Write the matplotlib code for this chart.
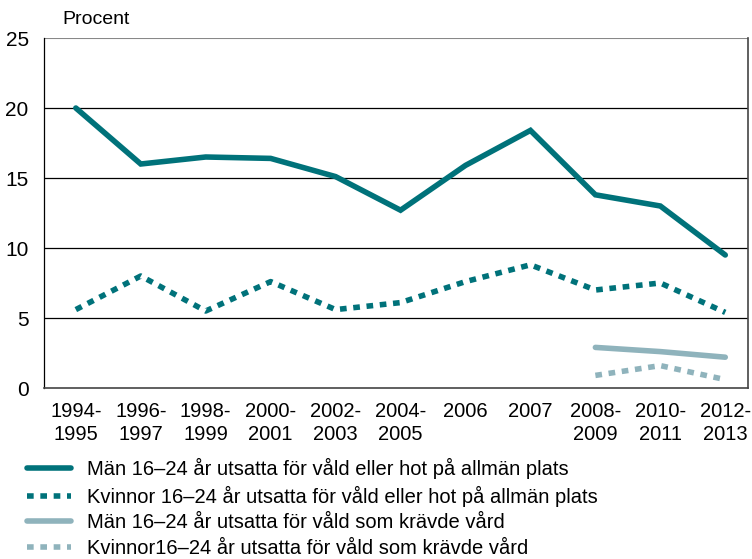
import matplotlib
matplotlib.use("Agg")
import matplotlib.pyplot as plt

plt.rcParams['font.family'] = ['Liberation Sans', 'DejaVu Sans']

categories = ["1994-\n1995", "1996-\n1997", "1998-\n1999", "2000-\n2001", "2002-\n2003",
              "2004-\n2005", "2006", "2007", "2008-\n2009", "2010-\n2011", "2012-\n2013"]
man_allman = [20.0, 16.0, 16.5, 16.4, 15.1, 12.7, 15.9, 18.4, 13.8, 13.0, 9.5]
kvinnor_allman = [5.6, 8.0, 5.5, 7.6, 5.6, 6.1, 7.6, 8.8, 7.0, 7.5, 5.4]
man_vard = [2.9, 2.6, 2.2]
kvinnor_vard = [0.9, 1.6, 0.6]
vard_idx = [8, 9, 10]
labels = ["Män 16–24 år utsatta för våld eller hot på allmän plats",
          "Kvinnor 16–24 år utsatta för våld eller hot på allmän plats",
          "Män 16–24 år utsatta för våld som krävde vård",
          "Kvinnor16–24 år utsatta för våld som krävde vård"]
yticks = [0, 5, 10, 15, 20, 25]

dark = "#00727a"
light = "#8fb3bc"

fig = plt.figure(figsize=(7.52, 5.59), dpi=100)
ax = fig.add_axes([44/752, 1-388/559, (748-44)/752, (388-38)/559])

x = list(range(len(categories)))
l1, = ax.plot(x, man_allman, color=dark, lw=4, solid_capstyle='round', solid_joinstyle='miter', zorder=3)
l2, = ax.plot(x, kvinnor_allman, color=dark, lw=4, ls=(0, (1.2, 1.2)), zorder=3)
l3, = ax.plot(vard_idx, man_vard, color=light, lw=4, solid_capstyle='round', zorder=3)
l4, = ax.plot(vard_idx, kvinnor_vard, color=light, lw=4, ls=(0, (1.2, 1.2)), zorder=3)

ax.set_xlim(-0.49, 10.35)
ax.set_ylim(0, 25)
ax.set_yticks(yticks)
for v in yticks[1:-1]:
    ax.axhline(v, color='black', lw=0.9, zorder=1)
ax.axhline(25, color='#888888', lw=1.5, zorder=1)
ax.set_xticks(x)
ax.set_xticklabels(categories, fontsize=14.5, linespacing=1.25, ha='center', va='top')
ax.tick_params(axis='x', length=0, pad=10)
ax.tick_params(axis='y', length=0, labelsize=15, pad=11)
ax.spines['top'].set_visible(False)
ax.spines['left'].set_color('black')
ax.spines['left'].set_linewidth(0.9)
ax.spines['right'].set_color('#444444')
ax.spines['right'].set_linewidth(1.2)
ax.spines['bottom'].set_color('#444444')
ax.spines['bottom'].set_linewidth(1.2)

fig.text(62/752, 1-20/559, "Procent", fontsize=14, va='center', ha='left')

leg = fig.legend([l1, l2, l3, l4], labels, loc='upper left', bbox_to_anchor=(27/752, 1-458/559),
                 frameon=False, fontsize=14.5, handlelength=2.2, handletextpad=0.8,
                 labelspacing=0.33, borderaxespad=0, borderpad=0)

fig.savefig("out.png", dpi=100)
